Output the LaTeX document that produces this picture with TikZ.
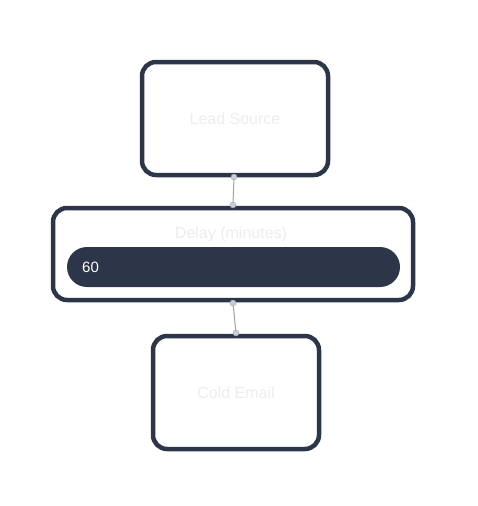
\documentclass[tikz,border=0pt]{standalone}
\usepackage{fontspec}
\setmainfont{Liberation Sans}
\definecolor{navy}{HTML}{2D3648}
\definecolor{faint}{HTML}{EBEDF1}
\definecolor{wire}{HTML}{9CA3AD}
\definecolor{dotc}{HTML}{C9CED6}
\begin{document}
\begin{tikzpicture}[x=1pt,y=-1pt,
  card/.style={draw=navy,line width=4.5pt,rounded corners=14pt,fill=white,inner sep=0pt},
  lbl/.style={text=faint,font=\fontsize{16}{18}\selectfont},
  wirestyle/.style={draw=wire,line width=1pt},
  port/.style={circle,fill=dotc,draw=wire,line width=0.4pt,inner sep=0pt,minimum size=6pt}]
\useasboundingbox (0,0) rectangle (477,506);
\node[card,minimum width=186pt,minimum height=113pt] (lead) at (235,118.5) {};
\node[lbl] (leadt) at (235,119) {Lead Source};
\node[card,minimum width=360pt,minimum height=92pt] (delay) at (233,254) {};
\node[lbl] (delayt) at (231,234) {Delay (minutes)};
\node[fill=navy,rounded corners=20pt,minimum width=333pt,minimum height=40pt,inner sep=0pt] (field) at (233.5,267) {};
\node[text=white,anchor=west,font=\fontsize{15}{17}\selectfont,inner sep=0pt] (val) at (82,267) {60};
\node[card,minimum width=166pt,minimum height=113pt] (cold) at (236,392.5) {};
\node[lbl] (coldt) at (236,393) {Cold Email};
\coordinate (p1) at (234,177);
\coordinate (p2) at (233,205);
\coordinate (p3) at (233,303);
\coordinate (p4) at (236,333);
\draw[wirestyle] (p1) -- (p2);
\draw[wirestyle] (p3) -- (p4);
\node[port] (d1) at (p1) {};
\node[port] (d2) at (p2) {};
\node[port] (d3) at (p3) {};
\node[port] (d4) at (p4) {};
\end{tikzpicture}
\end{document}
